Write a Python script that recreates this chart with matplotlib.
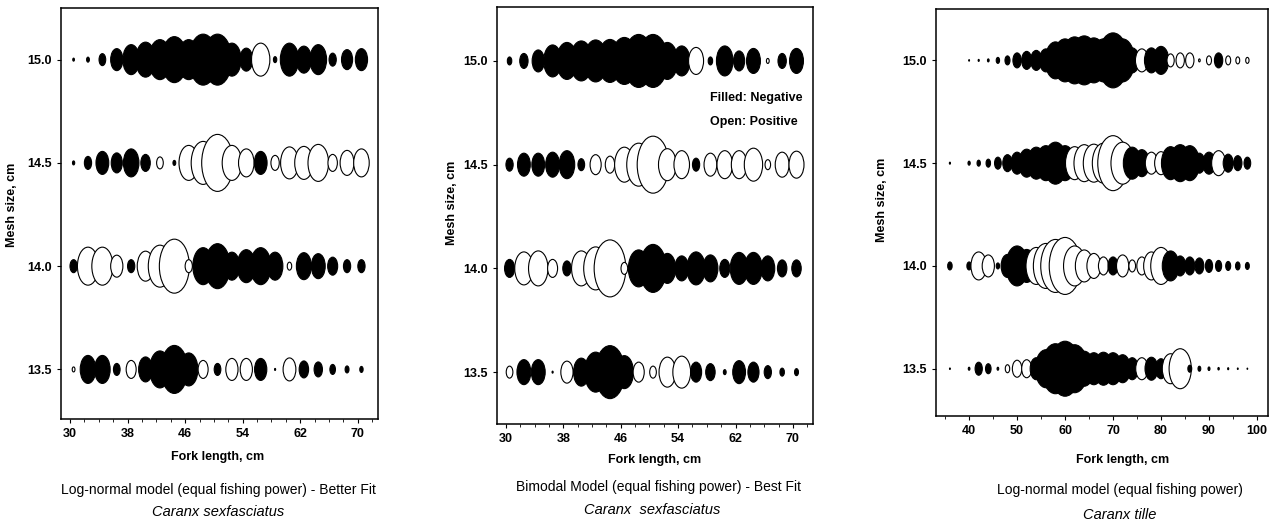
import numpy as np
import matplotlib
matplotlib.use("Agg")
import matplotlib.pyplot as plt
from matplotlib.path import Path
from matplotlib.markers import MarkerStyle
from matplotlib.ticker import MultipleLocator

plt.rcParams['font.family'] = ['Liberation Sans Narrow', 'Liberation Sans', 'DejaVu Sans']

# ---------------- data ----------------
mesh_sizes = [15.0, 14.5, 14.0, 13.5]

# Caranx sexfasciatus length classes (cm)
len_sex = [30.5, 32.5, 34.5, 36.5, 38.5, 40.5, 42.5, 44.5, 46.5, 48.5, 50.5,
           52.5, 54.5, 56.5, 58.5, 60.5, 62.5, 64.5, 66.5, 68.5, 70.5]

# Panel 1: Log-normal model residuals (negative = filled, positive = open)
p1_150 = [-0.3, -0.5, -1.2, -2.2, -3.0, -3.5, -4.0, -4.6, -4.0, -5.1, -5.1,
          -3.3, -2.3, 3.3, -0.6, -3.3, -2.7, -3.0, -1.3, -2.0, -2.2]
p1_145 = [-0.4, -1.3, -2.3, -2.0, -2.8, -1.7, 1.2, -0.5, 3.5, 4.3, 5.7,
          3.5, 2.8, -2.3, 1.5, 3.2, 3.3, 3.7, 1.7, 2.5, 2.8]
p1_140 = [-1.3, 3.8, 3.8, 2.2, -1.3, 3.0, 4.2, 5.4, 1.3, -3.7, -4.5,
          -2.8, -3.3, -3.7, -2.8, 0.8, -2.7, -2.5, -1.8, -1.3, -1.3]
p1_135 = [0.5, -2.8, -2.8, -1.2, 1.8, -2.5, -3.7, -4.8, -3.3, 1.8, -1.2,
          2.2, 2.2, -2.2, -0.2, 2.3, -1.7, -1.5, -1.0, -0.7, -0.6]

# Panel 2: Bimodal model residuals
p2_150 = [-0.8, -1.5, -2.2, -3.2, -3.7, -4.0, -4.2, -4.3, -4.7, -5.3, -5.3,
          -3.7, -3.0, 2.7, -0.8, -3.0, -2.0, -2.5, 0.5, -1.5, -2.5]
p2_145 = [-1.3, -2.3, -2.3, -2.5, -2.8, -1.2, 2.0, 1.7, 3.5, 4.3, 5.7,
          3.2, 2.8, -1.3, 2.3, 2.8, 2.8, 3.3, 1.0, 2.5, 2.7]
p2_140 = [-1.8, 3.3, 3.5, 1.8, -1.5, 3.5, 4.3, 5.7, 1.2, -3.7, -4.8,
          -3.0, -2.5, -3.3, -2.7, -1.8, -3.2, -3.2, -2.5, -1.7, -1.7]
p2_135 = [1.2, -2.5, -2.5, -0.2, 2.2, -2.8, -4.0, -5.3, -3.3, 2.0, 1.2,
          3.0, 3.2, -2.0, -1.7, -0.5, -2.3, -2.0, -1.3, -0.8, -0.7]

# Caranx tille length classes (cm)
len_tille = [36, 38, 40, 42, 44, 46, 48, 50, 52, 54, 56, 58, 60, 62, 64, 66,
             68, 70, 72, 74, 76, 78, 80, 82, 84, 86, 88, 90, 92, 94, 96, 98]

# Panel 3: Log-normal model residuals
p3_150 = [0.0, 0.0, -0.15, -0.2, -0.3, -0.6, -0.9, -1.5, -1.8, -2.0, -2.3, -3.7,
          -4.3, -4.7, -4.9, -4.5, -4.3, -5.5, -4.3, -2.5, 2.3, -2.5, -2.8, 1.3,
          1.5, 1.5, 0.3, 0.9, -1.5, 0.9, 0.7, 0.6]
p3_145 = [-0.2, 0.0, -0.4, -0.6, -0.8, -1.2, -1.7, -2.2, -2.8, -3.2, -3.5, -4.2,
          -3.5, 3.3, 3.7, 3.8, 4.0, 5.5, 4.2, -3.2, -2.7, 2.2, 2.3, -3.3,
          -3.7, -3.5, -2.0, -2.2, 2.5, -1.8, -1.5, -1.2]
p3_140 = [-0.8, 0.0, -0.8, 2.8, 2.2, -0.6, -2.3, -4.0, -3.3, 3.7, 4.5, 5.3,
          5.7, 4.0, 3.2, 2.5, 1.8, -1.8, 2.2, 1.2, 1.8, 2.8, 3.7, -3.0,
          -2.0, -1.8, -1.6, -1.3, -1.1, -0.9, -0.8, -0.7]
p3_135 = [-0.15, 0.0, -0.3, -1.3, -1.0, -0.3, 0.8, 1.7, 1.8, -2.2, -3.8, -5.0,
          -5.5, -4.8, -3.5, -3.2, -3.3, -3.2, -2.8, -2.2, 2.2, -2.3, -2.0, 3.0,
          4.0, -0.7, -0.5, -0.35, -0.25, -0.2, -0.15, -0.12]

# ---------------- drawing ----------------
W, H = 1275, 525
fig = plt.figure(figsize=(W / 100, H / 100), dpi=100)

# elliptical marker (taller than wide)
circ = Path.unit_circle()
verts = circ.vertices.copy()
verts[:, 0] /= 1.8
ell = MarkerStyle(Path(verts, circ.codes))


def ax_rect(l, r, t, b):
    return [l / W, 1 - b / H, (r - l) / W, (b - t) / H]


def draw_panel(rect, xs, rows, xlim, ylim, xticks, xminor):
    ax = fig.add_axes(rect)
    for y, vals in zip(mesh_sizes, rows):
        xv = [x for x, v in zip(xs, vals) if v != 0]
        vv = [v for v in vals if v != 0]
        fc = ['black' if v < 0 else 'white' for v in vv]
        s = [(7.2 * abs(v)) ** 2 for v in vv]
        ax.scatter(xv, [y] * len(xv), s=s, marker=ell, facecolors=fc,
                   edgecolors='black', linewidths=0.8, zorder=3)
    ax.set_xlim(*xlim)
    ax.set_ylim(*ylim)
    ax.set_xticks(xticks)
    ax.xaxis.set_minor_locator(MultipleLocator(xminor))
    ax.set_yticks(mesh_sizes)
    ax.set_yticklabels([f"{m:.1f}" for m in mesh_sizes])
    ax.tick_params(which='major', direction='out', length=3, width=0.8,
                   labelsize=9)
    ax.tick_params(which='minor', direction='out', length=2, width=0.6)
    for lab in ax.get_xticklabels() + ax.get_yticklabels():
        lab.set_fontweight('bold')
    for sp in ax.spines.values():
        sp.set_linewidth(1.1)
    return ax


ax1 = draw_panel(ax_rect(61, 378, 8, 419), len_sex,
                 [p1_150, p1_145, p1_140, p1_135],
                 (28.75, 72.8), (13.26, 15.25), [30, 38, 46, 54, 62, 70], 2)
ax2 = draw_panel(ax_rect(497, 813, 7, 424), len_sex,
                 [p2_150, p2_145, p2_140, p2_135],
                 (28.75, 72.8), (13.25, 15.26), [30, 38, 46, 54, 62, 70], 2)
ax3 = draw_panel(ax_rect(936, 1268, 9, 416), len_tille,
                 [p3_150, p3_145, p3_140, p3_135],
                 (33.1, 102.3), (13.27, 15.25), [40, 50, 60, 70, 80, 90, 100], 5)

lab_kw = dict(fontsize=9, fontweight='bold')
for ax, ylx, yly, xlx, xly in [(ax1, -0.136, 0.52, 0.495, -0.078),
                               (ax2, -0.123, 0.53, 0.5, -0.072),
                               (ax3, -0.145, 0.53, 0.563, -0.093)]:
    ax.set_ylabel("Mesh size, cm", **lab_kw)
    ax.yaxis.set_label_coords(ylx, yly)
    ax.set_xlabel("Fork length, cm", **lab_kw)
    ax.xaxis.set_label_coords(xlx, xly)

ax2.text(0.674, 0.782, "Filled: Negative", transform=ax2.transAxes,
         fontsize=9, fontweight='bold', va='center', ha='left')
ax2.text(0.674, 0.724, "Open: Positive", transform=ax2.transAxes,
         fontsize=9, fontweight='bold', va='center', ha='left')

cap_kw = dict(fontsize=10, ha='center', va='center')
sp_kw = dict(fontsize=10.5, ha='center', va='center', style='italic',
             family=['Liberation Sans', 'DejaVu Sans'])
fig.text(218 / W, 1 - 490 / H,
         "Log-normal model (equal fishing power) - Better Fit", **cap_kw)
fig.text(218 / W, 1 - 512 / H, "Caranx sexfasciatus", **sp_kw)
fig.text(659 / W, 1 - 487 / H,
         "Bimodal Model (equal fishing power) - Best Fit", **cap_kw)
fig.text(652 / W, 1 - 510 / H, "Caranx  sexfasciatus", **sp_kw)
fig.text(1120 / W, 1 - 490 / H, "Log-normal model (equal fishing power)", **cap_kw)
fig.text(1120 / W, 1 - 515 / H, "Caranx tille", **sp_kw)

fig.savefig("out.png", dpi=100)
